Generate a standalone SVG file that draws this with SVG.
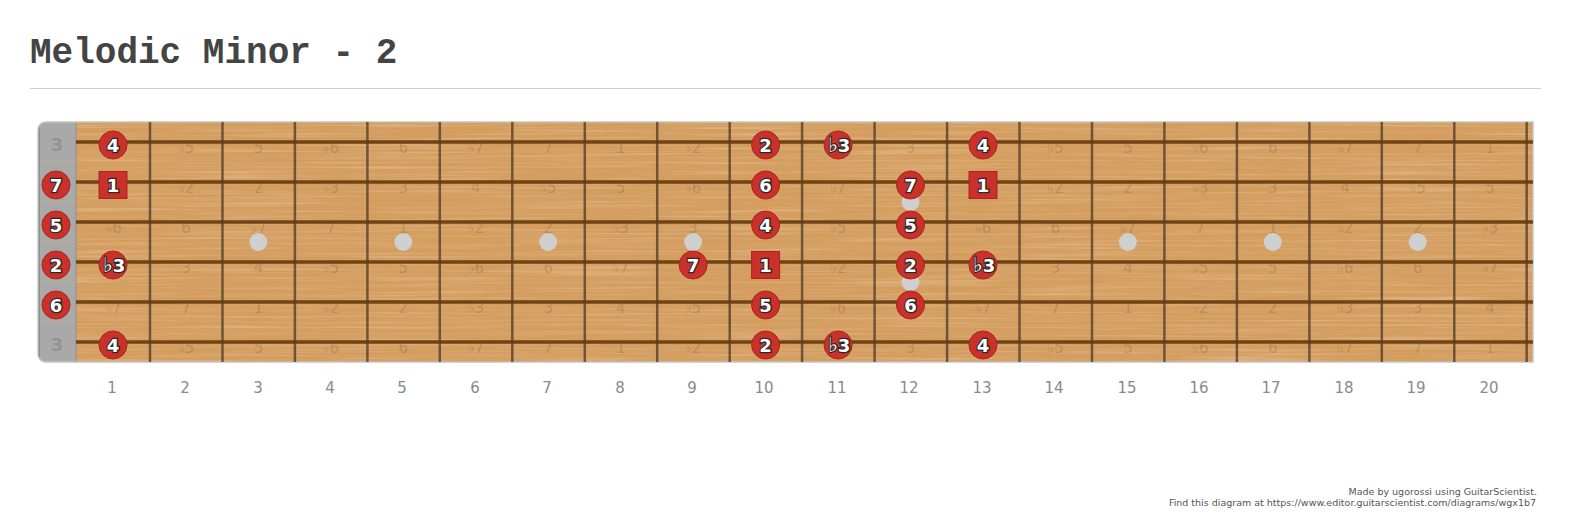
<svg xmlns="http://www.w3.org/2000/svg" width="1573" height="519" viewBox="0 0 1573 519">
<style>
.title{font-family:"Liberation Mono","Courier New",monospace;font-weight:bold;font-size:36px;fill:#444}
.fn{font-family:"DejaVu Sans",Verdana,sans-serif;font-size:15px;fill:#8a8a8a;text-anchor:middle}
.gh{font-family:"DejaVu Sans",Verdana,sans-serif;font-size:15px;fill:#6a5036;fill-opacity:0.26;text-anchor:middle}
.nc{fill:#c9312a;stroke:#a8261f;stroke-width:1}
.nt{font-family:"DejaVu Sans",Verdana,sans-serif;font-weight:bold;font-size:18px;fill:#fff;stroke:#2a2a2a;stroke-width:2.5;paint-order:stroke;text-anchor:middle}
.fl{font-size:21px;stroke-width:2.2}
.open{font-family:"DejaVu Sans",Verdana,sans-serif;font-weight:bold;font-size:18px;fill:#939393;text-anchor:middle}
.fret{stroke:#4b3a28;stroke-opacity:0.75;stroke-width:2.5}
.str{stroke:#64390c;stroke-width:3.5;stroke-opacity:0.9}
.dot{fill:#cfcfcf}
.foot{font-family:"DejaVu Sans",Verdana,sans-serif;font-size:9.5px;fill:#555;text-anchor:end}
</style>
<defs>
<clipPath id="board"><path d="M46 122H1533V362H46A8 8 0 0 1 38 354V130A8 8 0 0 1 46 122Z"/></clipPath>
<filter id="grain" filterUnits="userSpaceOnUse" x="38" y="122" width="1495" height="240">
<feTurbulence type="fractalNoise" baseFrequency="0.006 0.45" numOctaves="4" seed="7" result="n"/>
<feColorMatrix in="n" type="matrix" values="0 0 0 0 0.68 0 0 0 0 0.38 0 0 0 0 0.15 1.5 0 0 0 -0.58" result="dark"/>
<feColorMatrix in="n" type="matrix" values="0 0 0 0 0.93 0 0 0 0 0.74 0 0 0 0 0.50 0 0.8 0 0 -0.4" result="light"/>
<feMerge><feMergeNode in="dark"/><feMergeNode in="light"/></feMerge>
</filter>
</defs>
<rect width="1573" height="519" fill="#fff"/>
<text class="title" x="30" y="63">Melodic Minor - 2</text>
<line x1="30" y1="88.5" x2="1541" y2="88.5" stroke="#cccccc" stroke-width="1"/>

<g id="fretboard">
<g clip-path="url(#board)">
<rect x="38" y="122" width="1495" height="240" fill="#d49d5f"/>
<rect x="38" y="122" width="1495" height="240" filter="url(#grain)"/>
<rect x="38" y="122" width="38" height="240" fill="#a9a9a9"/>
<g stroke="#d2b68e" stroke-opacity="0.6" stroke-width="1">
<line x1="38" y1="162" x2="76" y2="162"/><line x1="38" y1="202" x2="76" y2="202"/><line x1="38" y1="242" x2="76" y2="242"/><line x1="38" y1="282" x2="76" y2="282"/><line x1="38" y1="322" x2="76" y2="322"/>
</g>
<line x1="39" y1="122" x2="39" y2="362" stroke="#8a8a8a" stroke-width="2"/>
<line x1="76" y1="122" x2="76" y2="362" stroke="#8f8f8f" stroke-width="1"/>
</g>
<path d="M46 122H1533V362H46A8 8 0 0 1 38 354V130A8 8 0 0 1 46 122Z" fill="none" stroke="#c4c4c4" stroke-width="1.5"/>
</g>

<g id="inlays">
<circle class="dot" cx="258.4" cy="242" r="9"/>
<circle class="dot" cx="403.3" cy="242" r="9"/>
<circle class="dot" cx="548.2" cy="242" r="9"/>
<circle class="dot" cx="693.1" cy="242" r="9"/>
<circle class="dot" cx="910.5" cy="202" r="9"/>
<circle class="dot" cx="910.5" cy="282" r="9"/>
<circle class="dot" cx="1127.9" cy="242" r="9"/>
<circle class="dot" cx="1272.8" cy="242" r="9"/>
<circle class="dot" cx="1417.7" cy="242" r="9"/>
</g>

<g id="frets">
<line class="fret" x1="150" y1="122" x2="150" y2="362"/>
<line class="fret" x1="222.5" y1="122" x2="222.5" y2="362"/>
<line class="fret" x1="294.9" y1="122" x2="294.9" y2="362"/>
<line class="fret" x1="367.4" y1="122" x2="367.4" y2="362"/>
<line class="fret" x1="439.8" y1="122" x2="439.8" y2="362"/>
<line class="fret" x1="512.3" y1="122" x2="512.3" y2="362"/>
<line class="fret" x1="584.8" y1="122" x2="584.8" y2="362"/>
<line class="fret" x1="657.2" y1="122" x2="657.2" y2="362"/>
<line class="fret" x1="729.7" y1="122" x2="729.7" y2="362"/>
<line class="fret" x1="802.1" y1="122" x2="802.1" y2="362"/>
<line class="fret" x1="874.6" y1="122" x2="874.6" y2="362"/>
<line class="fret" x1="947.1" y1="122" x2="947.1" y2="362"/>
<line class="fret" x1="1019.5" y1="122" x2="1019.5" y2="362"/>
<line class="fret" x1="1092" y1="122" x2="1092" y2="362"/>
<line class="fret" x1="1164.4" y1="122" x2="1164.4" y2="362"/>
<line class="fret" x1="1236.9" y1="122" x2="1236.9" y2="362"/>
<line class="fret" x1="1309.4" y1="122" x2="1309.4" y2="362"/>
<line class="fret" x1="1381.8" y1="122" x2="1381.8" y2="362"/>
<line class="fret" x1="1454.3" y1="122" x2="1454.3" y2="362"/>
<line class="fret" x1="1526.7" y1="122" x2="1526.7" y2="362"/>
</g>

<g id="strings">
<line class="str" x1="76" y1="142" x2="1533" y2="142"/>
<line class="str" x1="76" y1="182" x2="1533" y2="182"/>
<line class="str" x1="76" y1="222" x2="1533" y2="222"/>
<line class="str" x1="76" y1="262" x2="1533" y2="262"/>
<line class="str" x1="76" y1="302" x2="1533" y2="302"/>
<line class="str" x1="76" y1="342" x2="1533" y2="342"/>
</g>

<g id="ghost-labels">
<!-- string 1 -->
<text class="gh" x="186" y="153">♭5</text><text class="gh" x="258.4" y="153">5</text><text class="gh" x="330.9" y="153">♭6</text><text class="gh" x="403.3" y="153">6</text><text class="gh" x="475.8" y="153">♭7</text><text class="gh" x="548.2" y="153">7</text><text class="gh" x="620.7" y="153">1</text><text class="gh" x="693.1" y="153">♭2</text><text class="gh" x="910.5" y="153">3</text><text class="gh" x="1055.4" y="153">♭5</text><text class="gh" x="1127.9" y="153">5</text><text class="gh" x="1200.3" y="153">♭6</text><text class="gh" x="1272.8" y="153">6</text><text class="gh" x="1345.2" y="153">♭7</text><text class="gh" x="1417.7" y="153">7</text><text class="gh" x="1490.1" y="153">1</text>
<!-- string 2 -->
<text class="gh" x="186" y="193">♭2</text><text class="gh" x="258.4" y="193">2</text><text class="gh" x="330.9" y="193">♭3</text><text class="gh" x="403.3" y="193">3</text><text class="gh" x="475.8" y="193">4</text><text class="gh" x="548.2" y="193">♭5</text><text class="gh" x="620.7" y="193">5</text><text class="gh" x="693.1" y="193">♭6</text><text class="gh" x="838.1" y="193">♭7</text><text class="gh" x="1055.4" y="193">♭2</text><text class="gh" x="1127.9" y="193">2</text><text class="gh" x="1200.3" y="193">♭3</text><text class="gh" x="1272.8" y="193">3</text><text class="gh" x="1345.2" y="193">4</text><text class="gh" x="1417.7" y="193">♭5</text><text class="gh" x="1490.1" y="193">5</text>
<!-- string 3 -->
<text class="gh" x="113.5" y="233">♭6</text><text class="gh" x="186" y="233">6</text><text class="gh" x="258.4" y="233">♭7</text><text class="gh" x="330.9" y="233">7</text><text class="gh" x="403.3" y="233">1</text><text class="gh" x="475.8" y="233">♭2</text><text class="gh" x="548.2" y="233">2</text><text class="gh" x="620.7" y="233">♭3</text><text class="gh" x="693.1" y="233">3</text><text class="gh" x="838.1" y="233">♭5</text><text class="gh" x="983" y="233">♭6</text><text class="gh" x="1055.4" y="233">6</text><text class="gh" x="1127.9" y="233">♭7</text><text class="gh" x="1200.3" y="233">7</text><text class="gh" x="1272.8" y="233">1</text><text class="gh" x="1345.2" y="233">♭2</text><text class="gh" x="1417.7" y="233">2</text><text class="gh" x="1490.1" y="233">♭3</text>
<!-- string 4 -->
<text class="gh" x="186" y="273">3</text><text class="gh" x="258.4" y="273">4</text><text class="gh" x="330.9" y="273">♭5</text><text class="gh" x="403.3" y="273">5</text><text class="gh" x="475.8" y="273">♭6</text><text class="gh" x="548.2" y="273">6</text><text class="gh" x="620.7" y="273">♭7</text><text class="gh" x="838.1" y="273">♭2</text><text class="gh" x="1055.4" y="273">3</text><text class="gh" x="1127.9" y="273">4</text><text class="gh" x="1200.3" y="273">♭5</text><text class="gh" x="1272.8" y="273">5</text><text class="gh" x="1345.2" y="273">♭6</text><text class="gh" x="1417.7" y="273">6</text><text class="gh" x="1490.1" y="273">♭7</text>
<!-- string 5 -->
<text class="gh" x="113.5" y="313">♭7</text><text class="gh" x="186" y="313">7</text><text class="gh" x="258.4" y="313">1</text><text class="gh" x="330.9" y="313">♭2</text><text class="gh" x="403.3" y="313">2</text><text class="gh" x="475.8" y="313">♭3</text><text class="gh" x="548.2" y="313">3</text><text class="gh" x="620.7" y="313">4</text><text class="gh" x="693.1" y="313">♭5</text><text class="gh" x="838.1" y="313">♭6</text><text class="gh" x="983" y="313">♭7</text><text class="gh" x="1055.4" y="313">7</text><text class="gh" x="1127.9" y="313">1</text><text class="gh" x="1200.3" y="313">♭2</text><text class="gh" x="1272.8" y="313">2</text><text class="gh" x="1345.2" y="313">♭3</text><text class="gh" x="1417.7" y="313">3</text><text class="gh" x="1490.1" y="313">4</text>
<!-- string 6 -->
<text class="gh" x="186" y="353">♭5</text><text class="gh" x="258.4" y="353">5</text><text class="gh" x="330.9" y="353">♭6</text><text class="gh" x="403.3" y="353">6</text><text class="gh" x="475.8" y="353">♭7</text><text class="gh" x="548.2" y="353">7</text><text class="gh" x="620.7" y="353">1</text><text class="gh" x="693.1" y="353">♭2</text><text class="gh" x="910.5" y="353">3</text><text class="gh" x="1055.4" y="353">♭5</text><text class="gh" x="1127.9" y="353">5</text><text class="gh" x="1200.3" y="353">♭6</text><text class="gh" x="1272.8" y="353">6</text><text class="gh" x="1345.2" y="353">♭7</text><text class="gh" x="1417.7" y="353">7</text><text class="gh" x="1490.1" y="353">1</text>
</g>

<g id="open-strings">
<text class="open" x="57" y="151">3</text>
<g id="open-s2"><circle class="nc" cx="56" cy="185" r="14"/><text class="nt" x="56" y="191.5">7</text></g>
<g id="open-s3"><circle class="nc" cx="56" cy="225" r="14"/><text class="nt" x="56" y="231.5">5</text></g>
<g id="open-s4"><circle class="nc" cx="56" cy="265" r="14"/><text class="nt" x="56" y="271.5">2</text></g>
<g id="open-s5"><circle class="nc" cx="56" cy="305" r="14"/><text class="nt" x="56" y="311.5">6</text></g>
<text class="open" x="57" y="351">3</text>
</g>

<g id="notes">
<g id="n-s1-f1"><circle class="nc" cx="113" cy="145" r="14"/><text class="nt" x="113" y="151.5">4</text></g>
<g id="n-s2-f1"><rect class="nc" x="99" y="171.5" width="28" height="27"/><text class="nt" x="113" y="191.5">1</text></g>
<g id="n-s4-f1"><circle class="nc" cx="113" cy="265" r="14"/><text class="nt" x="114" y="271.5"><tspan class="fl">♭</tspan>3</text></g>
<g id="n-s6-f1"><circle class="nc" cx="113" cy="345" r="14"/><text class="nt" x="113" y="351.5">4</text></g>

<g id="n-s4-f9"><circle class="nc" cx="693.1" cy="265" r="14"/><text class="nt" x="693.1" y="271.5">7</text></g>

<g id="n-s1-f10"><circle class="nc" cx="765.6" cy="145" r="14"/><text class="nt" x="765.6" y="151.5">2</text></g>
<g id="n-s2-f10"><circle class="nc" cx="765.6" cy="185" r="14"/><text class="nt" x="765.6" y="191.5">6</text></g>
<g id="n-s3-f10"><circle class="nc" cx="765.6" cy="225" r="14"/><text class="nt" x="765.6" y="231.5">4</text></g>
<g id="n-s4-f10"><rect class="nc" x="751.6" y="251.5" width="28" height="27"/><text class="nt" x="765.6" y="271.5">1</text></g>
<g id="n-s5-f10"><circle class="nc" cx="765.6" cy="305" r="14"/><text class="nt" x="765.6" y="311.5">5</text></g>
<g id="n-s6-f10"><circle class="nc" cx="765.6" cy="345" r="14"/><text class="nt" x="765.6" y="351.5">2</text></g>

<g id="n-s1-f11"><circle class="nc" cx="838.1" cy="145" r="14"/><text class="nt" x="839.1" y="151.5"><tspan class="fl">♭</tspan>3</text></g>
<g id="n-s6-f11"><circle class="nc" cx="838.1" cy="345" r="14"/><text class="nt" x="839.1" y="351.5"><tspan class="fl">♭</tspan>3</text></g>

<g id="n-s2-f12"><circle class="nc" cx="910.5" cy="185" r="14"/><text class="nt" x="910.5" y="191.5">7</text></g>
<g id="n-s3-f12"><circle class="nc" cx="910.5" cy="225" r="14"/><text class="nt" x="910.5" y="231.5">5</text></g>
<g id="n-s4-f12"><circle class="nc" cx="910.5" cy="265" r="14"/><text class="nt" x="910.5" y="271.5">2</text></g>
<g id="n-s5-f12"><circle class="nc" cx="910.5" cy="305" r="14"/><text class="nt" x="910.5" y="311.5">6</text></g>

<g id="n-s1-f13"><circle class="nc" cx="983" cy="145" r="14"/><text class="nt" x="983" y="151.5">4</text></g>
<g id="n-s2-f13"><rect class="nc" x="969" y="171.5" width="28" height="27"/><text class="nt" x="983" y="191.5">1</text></g>
<g id="n-s4-f13"><circle class="nc" cx="983" cy="265" r="14"/><text class="nt" x="984" y="271.5"><tspan class="fl">♭</tspan>3</text></g>
<g id="n-s6-f13"><circle class="nc" cx="983" cy="345" r="14"/><text class="nt" x="983" y="351.5">4</text></g>
</g>

<g id="fret-numbers">
<text class="fn" x="112" y="393">1</text><text class="fn" x="185" y="393">2</text><text class="fn" x="258" y="393">3</text><text class="fn" x="330" y="393">4</text><text class="fn" x="402" y="393">5</text><text class="fn" x="475" y="393">6</text><text class="fn" x="547" y="393">7</text><text class="fn" x="620" y="393">8</text><text class="fn" x="692" y="393">9</text><text class="fn" x="764" y="393">10</text><text class="fn" x="837" y="393">11</text><text class="fn" x="909" y="393">12</text><text class="fn" x="982" y="393">13</text><text class="fn" x="1054" y="393">14</text><text class="fn" x="1127" y="393">15</text><text class="fn" x="1199" y="393">16</text><text class="fn" x="1271" y="393">17</text><text class="fn" x="1344" y="393">18</text><text class="fn" x="1416" y="393">19</text><text class="fn" x="1489" y="393">20</text>
</g>

<g id="footer">
<text class="foot" x="1537" y="495">Made by ugorossi using GuitarScientist.</text>
<text class="foot" x="1536" y="506">Find this diagram at https://www.editor.guitarscientist.com/diagrams/wgx1b7</text>
</g>
</svg>
